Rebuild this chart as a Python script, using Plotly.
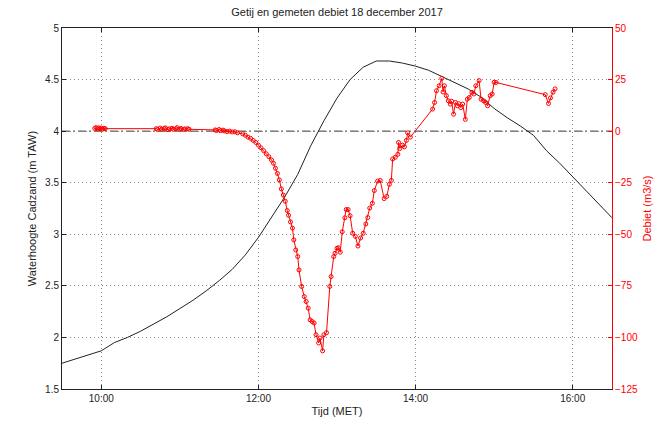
import pandas as pd
import plotly.graph_objects as go

DAY = "2017-12-18 "

# Water level at Cadzand (m TAW), 10-minute values
tide_time = [
    "09:30", "09:40", "09:50", "10:00", "10:10", "10:20", "10:30", "10:40", "10:50",
    "11:00", "11:10", "11:20", "11:30", "11:40", "11:50", "12:00", "12:10", "12:20",
    "12:30", "12:40", "12:50", "13:00", "13:10", "13:20", "13:30", "13:40", "13:50",
    "14:00", "14:10", "14:20", "14:30", "14:40", "14:50", "15:00", "15:10", "15:20",
    "15:30", "15:40", "15:50", "16:00", "16:10", "16:20", "16:30",
]
tide_level = [
    1.75, 1.79, 1.83, 1.87, 1.95, 2.00, 2.06, 2.13, 2.20,
    2.28, 2.36, 2.45, 2.55, 2.66, 2.80, 2.97, 3.16, 3.36,
    3.58, 3.86, 4.10, 4.32, 4.50, 4.62, 4.68, 4.68, 4.66,
    4.63, 4.59, 4.53, 4.47, 4.41, 4.33, 4.22, 4.13, 4.05,
    3.96, 3.81, 3.69, 3.56, 3.43, 3.30, 3.16,
]

# Measured discharge (m3/s)
flow_time = [
    "09:55:00", "09:56:00", "09:57:00", "09:58:00", "09:59:00", "10:00:00", "10:01:00", "10:02:00", "10:03:00",
    "10:42:00", "10:43:00", "10:45:00", "10:46:00", "10:48:00", "10:49:00", "10:51:00", "10:52:00", "10:54:00",
    "10:55:00", "10:57:00", "10:58:00", "11:00:00", "11:01:00", "11:03:00", "11:04:00", "11:06:00", "11:07:00",
    "11:27:00", "11:28:00", "11:30:00", "11:31:00", "11:33:00", "11:34:00", "11:36:00", "11:38:00", "11:40:00",
    "11:42:00", "11:44:00",
    "11:48:00", "11:50:00", "11:52:00", "11:54:00", "11:56:00", "11:58:00", "12:00:00", "12:02:00", "12:04:00",
    "12:06:00", "12:08:00", "12:10:00", "12:11:30", "12:13:00", "12:14:30", "12:16:00", "12:17:30", "12:19:00",
    "12:20:30", "12:22:00", "12:23:00", "12:24:30", "12:26:00", "12:27:00", "12:28:30", "12:30:00", "12:31:00",
    "12:33:00", "12:35:00", "12:36:30", "12:38:00", "12:39:30", "12:41:00", "12:42:30", "12:44:00", "12:46:00",
    "12:47:00", "12:49:00", "12:50:00", "12:52:00", "12:54:30", "12:55:30", "12:57:30", "12:58:30", "13:00:00",
    "13:01:00", "13:02:30", "13:04:00", "13:06:00", "13:07:00", "13:08:30", "13:10:00", "13:12:00", "13:14:00",
    "13:16:00", "13:18:00", "13:20:00", "13:22:00", "13:23:30", "13:25:00", "13:27:00", "13:28:30", "13:31:00",
    "13:33:00", "13:36:00", "13:38:00", "13:40:00", "13:41:30", "13:42:30", "13:44:30", "13:46:30", "13:47:00",
    "13:48:00", "13:50:00", "13:51:30", "13:53:00", "13:54:00", "13:56:00",
    "14:13:00", "14:14:30", "14:16:00", "14:18:00", "14:20:00", "14:21:00", "14:22:00", "14:23:30", "14:25:00",
    "14:26:30", "14:27:30", "14:29:00", "14:30:30", "14:32:00", "14:33:00", "14:34:30", "14:36:00", "14:38:00",
    "14:39:30", "14:41:00", "14:43:00", "14:44:30", "14:46:00", "14:48:30", "14:50:00", "14:52:00", "14:53:30",
    "14:55:00", "14:57:00", "14:58:30", "15:00:00", "15:01:30",
    "15:39:00", "15:41:30", "15:43:00", "15:45:00", "15:46:30",
]
flow_value = [
    1.3, 1.7, 1.1, 1.6, 1.2, 1.5, 1.0, 1.4, 1.2,
    1.2, 0.8, 1.5, 0.9, 1.3, 1.6, 0.7, 1.1, 1.4,
    0.9, 1.2, 1.7, 1.0, 1.3, 0.8, 1.1, 1.2, 0.9,
    0.6, 0.3, 0.8, 0.2, 0.5, 0.1, -0.2, 0.0, -0.4,
    -0.3, -0.8,
    -1.3, -2.0, -2.9, -3.5, -4.5, -5.5, -6.8, -8.1, -9.5,
    -11.0, -12.4, -14.0, -15.6, -18.0, -20.5, -23.6, -28.0, -31.0,
    -34.0, -38.5, -40.8, -44.0, -47.0, -52.7, -57.6, -60.8, -67.3,
    -75.3, -80.2, -82.6, -85.8, -91.5, -92.3, -93.0, -98.7, -102.7,
    -100.3, -106.5, -98.7, -97.7, -75.3, -70.5, -60.8, -59.2, -56.8,
    -56.5, -58.7, -48.8, -42.0, -38.0, -38.0, -41.0, -49.5, -51.0,
    -55.7, -51.8, -49.5, -45.0, -41.9, -37.3, -35.0, -28.8, -24.2,
    -23.9, -32.7, -31.6, -25.8, -23.9, -13.5, -12.7, -11.2, -5.5,
    -8.4, -6.8, -7.6, -4.5, -0.8, -2.9,
    10.7, 13.9, 19.6, 22.0, 25.6, 19.0, 22.0, 17.2, 14.7,
    13.1, 14.5, 8.2, 13.9, 12.3, 13.3, 11.4, 13.1, 5.7,
    15.5, 16.3, 18.8, 18.0, 22.0, 24.5, 15.5, 14.7, 13.9,
    12.3, 17.2, 18.0, 23.7, 23.6,
    17.7, 13.4, 16.1, 18.9, 20.5,
]

level_ticks = [1.5, 2, 2.5, 3, 3.5, 4, 4.5, 5]
flow_ticks = [-125, -100, -75, -50, -25, 0, 25, 50]

tide_x = pd.to_datetime([DAY + t for t in tide_time])
flow_x = pd.to_datetime([DAY + t for t in flow_time])

FONT = "Liberation Sans, Arial, sans-serif"
RED = "#ff0000"
GRID = "#8a8a8a"
GRID_DASH = "1px,3px"

fig = go.Figure()
fig.add_trace(go.Scatter(
    x=tide_x, y=tide_level, mode="lines",
    line=dict(color="#222222", width=1), yaxis="y", showlegend=False,
))
fig.add_trace(go.Scatter(
    x=flow_x, y=flow_value, mode="lines+markers",
    line=dict(color=RED, width=1),
    marker=dict(symbol="circle-open", size=4, color=RED, line=dict(width=1, color=RED)),
    yaxis="y2", showlegend=False,
))

# zero-discharge reference line
fig.add_shape(type="line", xref="paper", x0=0, x1=1, yref="y2", y0=0, y1=0,
              line=dict(color="#333333", width=1, dash="8px,3px,2px,3px"), layer="below")

fig.update_layout(
    width=664, height=428,
    margin=dict(l=62, r=48, t=28, b=33),
    paper_bgcolor="white", plot_bgcolor="white",
    font=dict(family=FONT, size=10, color="#222222"),
    title=dict(text="Getij en gemeten debiet 18 december 2017", x=0.5, xref="paper",
               y=1, yref="container", yanchor="top", pad=dict(t=8),
               font=dict(family=FONT, size=11, color="#222222")),
    xaxis=dict(
        type="date",
        range=[DAY + "09:30", DAY + "16:30"],
        tick0=DAY + "10:00", dtick=2 * 3600 * 1000, tickformat="%H:%M",
        showline=True, linecolor="#222222", linewidth=1, mirror="ticks",
        ticks="inside", ticklen=4, tickcolor="#222222",
        showgrid=True, gridcolor=GRID, griddash=GRID_DASH, gridwidth=1,
        zeroline=False,
        title=dict(text="Tijd (MET)", standoff=4, font=dict(size=11)),
    ),
    yaxis=dict(
        range=[1.5, 5], tickvals=level_ticks,
        showline=True, linecolor="#222222", linewidth=1,
        ticks="inside", ticklen=4, tickcolor="#222222",
        showgrid=True, gridcolor=GRID, griddash=GRID_DASH, gridwidth=1,
        zeroline=False,
        title=dict(text="Waterhoogte Cadzand (m TAW)", standoff=6, font=dict(size=11)),
    ),
    yaxis2=dict(
        range=[-125, 50], tickvals=flow_ticks,
        overlaying="y", side="right", anchor="x",
        showline=True, linecolor=RED, linewidth=1,
        ticks="inside", ticklen=4, tickcolor=RED,
        tickfont=dict(color=RED),
        showgrid=False, zeroline=False,
        title=dict(text="Debiet (m3/s)", standoff=6, font=dict(size=11, color=RED)),
    ),
)

fig.write_html("out.html")
